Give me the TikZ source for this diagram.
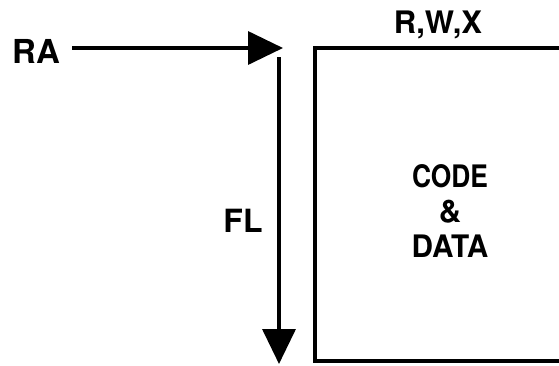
\documentclass[tikz,border=0pt]{standalone}
\usepackage{fontspec}
\setmainfont{TeX Gyre Heros}
\usetikzlibrary{arrows.meta}
\begin{document}
\begin{tikzpicture}[x=1pt,y=-1pt,
  lbl/.style={font=\fontsize{31}{35}\selectfont\bfseries, inner sep=0pt},
  conn/.style={line width=3.5pt, -{Triangle[length=35pt,width=33pt]}},
  boxline/.style={line width=3.5pt}]
\useasboundingbox (0,0) rectangle (559,365);
\node[lbl, font=\fontsize{33}{35}\selectfont\bfseries] (ra) at (36,51) {RA};
\coordinate (htip) at (283,48);
\coordinate (vtop) at (279,57);
\coordinate (vtip) at (279,364);
\draw[conn, shorten <=12pt] (ra.east |- htip) -- (htip);
\draw[conn] (vtop) -- (vtip);
\node[lbl, font=\fontsize{32}{35}\selectfont\bfseries] (fl) at (243,221) {FL};
\coordinate (b1) at (562,48);
\coordinate (b2) at (315,48);
\coordinate (b3) at (315,361);
\coordinate (b4) at (562,361);
\draw[boxline] (b1) -- (b2) -- (b3) -- (b4);
\node[lbl] (rwx) at (438,25) {R,W,X};
\node[lbl, align=center] (code) at (450,211)
  {\scalebox{0.85}[1]{CODE}\\\&\\\scalebox{0.96}[1]{DATA}};
\end{tikzpicture}
\end{document}
